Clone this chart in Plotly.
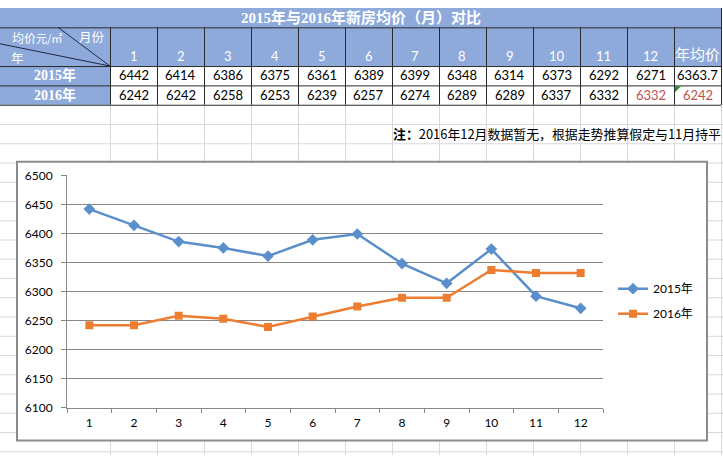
import plotly.graph_objects as go

# ---------------- data ----------------
months = [str(i) for i in range(1, 13)]
vals_2015 = [6442, 6414, 6386, 6375, 6361, 6389, 6399, 6348, 6314, 6373, 6292, 6271]
vals_2016 = [6242, 6242, 6258, 6253, 6239, 6257, 6274, 6289, 6289, 6337, 6332, 6332]
avg_values = ["6363.7", "6242"]
row_labels = ["2015年", "2016年"]
series_names = ["2015年", "2016年"]
title_text = "2015年与2016年新房均价（月）对比"
corner_top = "均价<span style='font-size:11px'>元/㎡</span>"
corner_right = "月份"
corner_left = "年"
avg_header = "年均价"
note_text = "<b>注：</b>2016年12月数据暂无，根据走势推算假定与11月持平"
estimated_cells = [(1, 11), (1, 12)]   # (row, column) shown in red; column 12 = 年均价
y_range = [6100, 6500]
y_step = 50

# ---------------- styling / geometry ----------------
W, H = 723, 462
BLUE_HDR = "#8EAADB"
GRID_DARK = "#2b2b2b"
SHEET_GRID = "#d9d9d9"
C2015 = "#5B8FCB"
C2016 = "#ED7D31"
RED = "#C0504D"
NUM_FONT = "Lato, Noto Sans CJK SC, sans-serif"
CJK_FONT = "Noto Sans CJK SC, sans-serif"
SERIF_FONT = "Liberation Serif, Noto Sans CJK SC, serif"

LABEL_W = 110
COL_W = 47
TABLE_R = 721
TITLE_B = 20
HEADER_B = 60
ROW_H = 20


def px(x):
    return x / W


def py(y):
    return 1 - y / H


shapes = []
annotations = []


def hline(y, x0, x1, color, width=1):
    shapes.append(dict(type="line", xref="paper", yref="paper", x0=px(x0), x1=px(x1),
                       y0=py(y), y1=py(y), line=dict(color=color, width=width), layer="below"))


def vline(x, y0, y1, color, width=1):
    shapes.append(dict(type="line", xref="paper", yref="paper", x0=px(x), x1=px(x),
                       y0=py(y0), y1=py(y1), line=dict(color=color, width=width), layer="below"))


def rect(x0, y0, x1, y1, fill, line_color=None, lw=0):
    shapes.append(dict(type="rect", xref="paper", yref="paper", x0=px(x0), x1=px(x1),
                       y0=py(y1), y1=py(y0), fillcolor=fill,
                       line=dict(color=line_color or fill, width=lw), layer="below"))


def text(x, y, s, size, color, family, xanchor="center"):
    annotations.append(dict(xref="paper", yref="paper", x=px(x), y=py(y), text=s,
                            showarrow=False, xanchor=xanchor, yanchor="middle",
                            font=dict(size=size, color=color, family=family)))


col_edges = [LABEL_W + COL_W * i for i in range(len(months) + 1)] + [TABLE_R]
table_bottom = HEADER_B + ROW_H * len(row_labels)

# spreadsheet grid below the table
k = 1
while True:
    yy = table_bottom + 0.5 + 19.9 * k
    if yy > H:
        break
    hline(yy, 0, W, SHEET_GRID)
    k += 1
for xe in [LABEL_W] + col_edges[1:]:
    vline(xe + 0.5, table_bottom, H, SHEET_GRID)

# chart box
rect(17, 159, 707, 447, "white", "#8c8c8c", 2)

# table fills
rect(0, 0, TABLE_R, HEADER_B, BLUE_HDR)
rect(0, HEADER_B, LABEL_W, table_bottom, BLUE_HDR)
rect(LABEL_W, HEADER_B, TABLE_R, table_bottom, "white")

# table lines
for yy in [TITLE_B, HEADER_B] + [HEADER_B + ROW_H * (r + 1) for r in range(len(row_labels))]:
    hline(yy + 0.5, 0, TABLE_R, GRID_DARK)
for xe in col_edges:
    vline(xe + 0.5, TITLE_B, table_bottom, GRID_DARK)
vline(TABLE_R + 0.5, 0, table_bottom, GRID_DARK)

# corner diagonals
shapes.append(dict(type="line", xref="paper", yref="paper", x0=px(0), y0=py(37),
                   x1=px(LABEL_W), y1=py(HEADER_B), line=dict(color="#1f2a44", width=1), layer="below"))
shapes.append(dict(type="line", xref="paper", yref="paper", x0=px(58), y0=py(TITLE_B),
                   x1=px(LABEL_W), y1=py(HEADER_B), line=dict(color="#1f2a44", width=1), layer="below"))

# small green error indicator in the estimated average cell
ex = col_edges[-2] + 1
ey = HEADER_B + ROW_H + 1
shapes.append(dict(type="path", xref="paper", yref="paper",
                   path=f"M {px(ex)} {py(ey)} L {px(ex + 6)} {py(ey)} L {px(ex)} {py(ey + 6)} Z",
                   fillcolor="#2e8b3a", line=dict(width=0), layer="below"))

# title and header texts
text(TABLE_R / 2, TITLE_B / 2 - 0.5, f"<b>{title_text}</b>", 15, "white", SERIF_FONT)
text(37, 31, corner_top, 12, "white", CJK_FONT)
text(92, 29, corner_right, 12.5, "white", CJK_FONT)
text(17, 51, corner_left, 12.5, "white", CJK_FONT)
for i, m in enumerate(months):
    cx = (col_edges[i] + col_edges[i + 1]) / 2
    text(cx, 50, m, 13, "white", NUM_FONT)
text((col_edges[-2] + col_edges[-1]) / 2, 47, avg_header, 15, "white", CJK_FONT)

# body rows
rows = [[str(v) for v in vals_2015] + [avg_values[0]],
        [str(v) for v in vals_2016] + [avg_values[1]]]
for r, (lab, row) in enumerate(zip(row_labels, rows)):
    cy = HEADER_B + ROW_H * r + ROW_H / 2 - 0.5
    text(LABEL_W / 2, cy, f"<b>{lab}</b>", 14, "white", SERIF_FONT)
    for c, v in enumerate(row):
        cx = (col_edges[c] + col_edges[c + 1]) / 2
        color = RED if (r, c) in estimated_cells else "black"
        text(cx, cy, v, 13, color, NUM_FONT)

# note
text(391, 130, note_text, 12.9, "black", CJK_FONT, xanchor="left")

fig = go.Figure()
fig.add_trace(go.Scatter(x=months, y=vals_2015, name=series_names[0], mode="lines+markers",
                         line=dict(color=C2015, width=2.5),
                         marker=dict(symbol="diamond", size=9, color=C2015),
                         legendgroup="a"))
fig.add_trace(go.Scatter(x=months, y=vals_2016, name=series_names[1], mode="lines+markers",
                         line=dict(color=C2016, width=2.5),
                         marker=dict(symbol="square", size=8, color=C2016),
                         legendgroup="b"))

fig.update_layout(
    width=W, height=H, margin=dict(l=0, r=0, t=0, b=0),
    paper_bgcolor="white", plot_bgcolor="rgba(0,0,0,0)",
    shapes=shapes, annotations=annotations,
    showlegend=True,
    legend=dict(x=px(613), y=py(303), xanchor="left", yanchor="middle",
                bgcolor="rgba(0,0,0,0)", font=dict(family=NUM_FONT, size=12, color="black"),
                traceorder="grouped", tracegroupgap=6),
    xaxis=dict(domain=[px(67), px(603)], type="category", range=[-0.5, len(months) - 0.5],
               tickson="boundaries", ticks="outside", ticklen=4, tickcolor="#868686",
               showline=True, linecolor="#868686", linewidth=1, showgrid=False,
               tickfont=dict(family=NUM_FONT, size=12, color="black"), ticklabelstandoff=4,
               fixedrange=True),
    yaxis=dict(domain=[py(413), py(173)], range=y_range, dtick=y_step, tick0=y_range[0],
               ticks="outside", ticklen=5, tickcolor="#868686",
               showline=True, linecolor="#868686", linewidth=1,
               showgrid=True, gridcolor="#868686", gridwidth=1, zeroline=False,
               tickfont=dict(family=NUM_FONT, size=12, color="black"), ticklabelstandoff=6,
               fixedrange=True),
)

fig.write_html("out.html")
